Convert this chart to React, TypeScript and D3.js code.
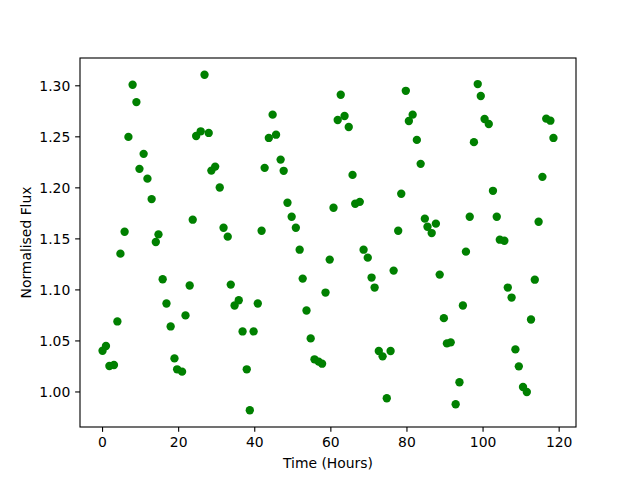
import React from "react";
import * as d3 from "d3";

const times: number[] = [
  0.0, 0.9, 1.8, 3.0, 3.9, 4.7, 5.8, 6.8, 7.9, 8.9, 9.7, 10.8, 11.8, 12.9, 14.0, 14.7, 15.8, 16.8, 17.9, 18.9,
  19.6, 20.9, 21.8, 22.9, 23.7, 24.6, 25.8, 26.8, 27.9, 28.6, 29.6, 30.8, 31.8, 32.9, 33.7, 34.7, 35.8, 36.8, 37.9, 38.7,
  39.7, 40.8, 41.8, 42.6, 43.7, 44.7, 45.6, 46.8, 47.6, 48.6, 49.7, 50.8, 51.8, 52.6, 53.6, 54.7, 55.7, 56.8, 57.7, 58.6,
  59.7, 60.7, 61.8, 62.6, 63.6, 64.7, 65.7, 66.4, 67.6, 68.6, 69.7, 70.7, 71.5, 72.6, 73.6, 74.7, 75.7, 76.5, 77.7, 78.5,
  79.7, 80.5, 81.5, 82.6, 83.6, 84.7, 85.4, 86.5, 87.6, 88.6, 89.7, 90.5, 91.5, 92.8, 93.8, 94.7, 95.5, 96.5, 97.6, 98.6,
  99.4, 100.4, 101.5, 102.6, 103.6, 104.4, 105.6, 106.5, 107.5, 108.5, 109.4, 110.5, 111.5, 112.6, 113.6, 114.6, 115.6, 116.6, 117.7, 118.5,
];

const flux: number[] = [
  1.0404, 1.045, 1.0254, 1.0264, 1.0691, 1.1355, 1.157, 1.2499, 1.301, 1.284, 1.2186, 1.2333, 1.209, 1.189, 1.1469, 1.1544, 1.1104, 1.0867, 1.0642, 1.0329,
  1.0222, 1.0199, 1.075, 1.1043, 1.1688, 1.2508, 1.2554, 1.3108, 1.2538, 1.2169, 1.2208, 1.2003, 1.1609, 1.1522, 1.1052, 1.0847, 1.0899, 1.0593, 1.0222, 0.9821,
  1.0593, 1.0867, 1.158, 1.2196, 1.2489, 1.2717, 1.2521, 1.2277, 1.2167, 1.1854, 1.1717, 1.1609, 1.1394, 1.1111, 1.0798, 1.0525, 1.032, 1.0297, 1.0277, 1.0974,
  1.1297, 1.1805, 1.2665, 1.2912, 1.2704, 1.2596, 1.2127, 1.1844, 1.1863, 1.1394, 1.1316, 1.1121, 1.1023, 1.0401, 1.0349, 0.9938, 1.0401, 1.1189, 1.158, 1.1942,
  1.2951, 1.2655, 1.2717, 1.247, 1.2235, 1.1698, 1.1619, 1.1557, 1.1649, 1.115, 1.0723, 1.0476, 1.0486, 0.988, 1.0095, 1.0847, 1.1375, 1.1717, 1.2448, 1.3017,
  1.29, 1.2675, 1.2626, 1.1971, 1.1717, 1.1492, 1.1482, 1.1023, 1.0925, 1.0417, 1.0251, 1.0049, 1.0, 1.071, 1.11, 1.1668, 1.2108, 1.2678, 1.2658, 1.2489,
];

const xTicks: number[] = [0, 20, 40, 60, 80, 100, 120];
const yTicks: number[] = [1.0, 1.05, 1.1, 1.15, 1.2, 1.25, 1.3];
const xLabel = "Time (Hours)";
const yLabel = "Normalised Flux";

const W = 640;
const H = 480;
const left = 80;
const right = 576;
const top = 58;
const bottom = 427;

export default function App() {
  const xMin = d3.min(times)!;
  const xMax = d3.max(times)!;
  const xr = xMax - xMin;
  const yMin = d3.min(flux)!;
  const yMax = d3.max(flux)!;
  const yr = yMax - yMin;
  const x = d3.scaleLinear().domain([xMin - 0.05 * xr, xMax + 0.05 * xr]).range([left, right]);
  const y = d3.scaleLinear().domain([yMin - 0.05 * yr, yMax + 0.05 * yr]).range([bottom, top]);
  const font = "DejaVu Sans, sans-serif";
  const tickLen = 4.86;
  const fs = 13.9;
  const r = 4.17;

  return (
    <svg width={W} height={H} style={{ position: "fixed", left: 0, top: 0, background: "#fff" }} fontFamily={font}>
      <rect x={0} y={0} width={W} height={H} fill="#fff" />
      {times.map((t, i) => (
        <circle key={i} cx={x(t)} cy={y(flux[i])} r={r} fill="#008000" />
      ))}
      <rect x={left} y={top} width={right - left} height={bottom - top} fill="none" stroke="#000" strokeWidth={1.11} />
      {xTicks.map((t) => (
        <g key={"x" + t}>
          <line x1={x(t)} x2={x(t)} y1={bottom} y2={bottom + tickLen} stroke="#000" strokeWidth={1.11} />
          <text x={x(t)} y={bottom + tickLen + 4.86 + 10.6} textAnchor="middle" fontSize={fs} fill="#000">
            {d3.format("d")(t)}
          </text>
        </g>
      ))}
      {yTicks.map((t) => (
        <g key={"y" + t}>
          <line x1={left - tickLen} x2={left} y1={y(t)} y2={y(t)} stroke="#000" strokeWidth={1.11} />
          <text x={left - tickLen - 4.86} y={y(t)} dy="0.36em" textAnchor="end" fontSize={fs} fill="#000">
            {d3.format(".2f")(t)}
          </text>
        </g>
      ))}
      <text x={(left + right) / 2} y={467.5} textAnchor="middle" fontSize={fs} fill="#000">
        {xLabel}
      </text>
      <text
        transform={`translate(31,${(top + bottom) / 2}) rotate(-90)`}
        textAnchor="middle"
        fontSize={fs}
        fill="#000"
      >
        {yLabel}
      </text>
    </svg>
  );
}
